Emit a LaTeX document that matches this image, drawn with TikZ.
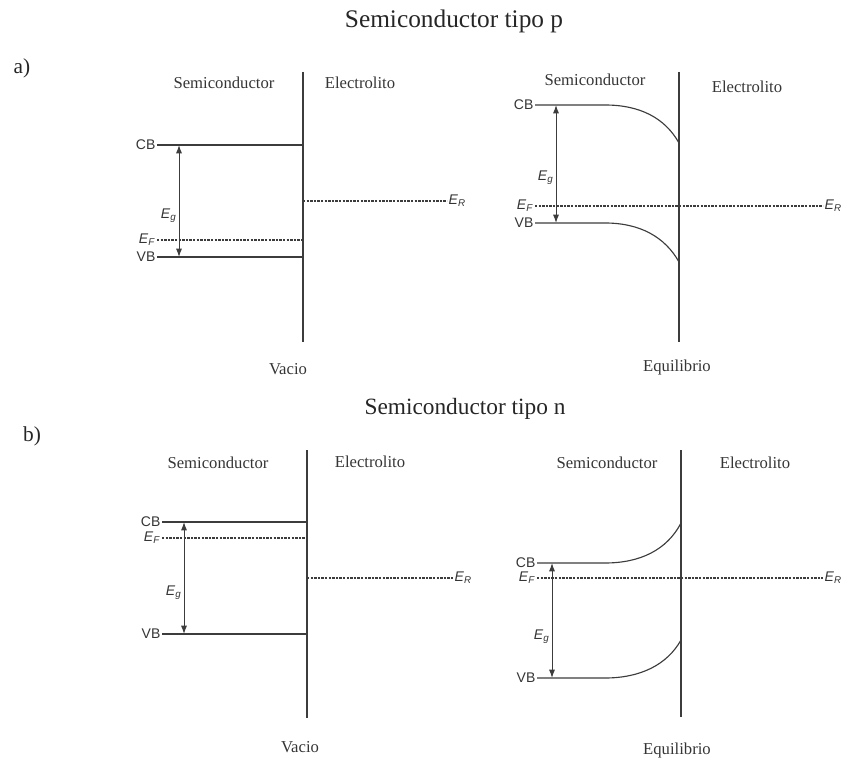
\documentclass[tikz,border=0pt]{standalone}
\usepackage{fontspec}
\setmainfont{Liberation Serif}
\setsansfont{Liberation Sans}
\usetikzlibrary{arrows.meta,positioning}
\definecolor{linec}{HTML}{3C3C3C}
\definecolor{txtc}{HTML}{353535}
\newcommand{\enr}[1]{\textit{E}\textsubscript{\textit{#1}}}
\tikzset{
  band/.style={line width=0.85pt,linec},
  fermi/.style={line width=0.8pt,linec,dash pattern=on 1.8pt off 0.9pt},
  gap/.style={{Latex[length=2.2mm,width=1.6mm]}-{Latex[length=2.2mm,width=1.6mm]},line width=0.75pt,linec},
  lvl/.style={font=\sffamily\fontsize{10.5}{12}\selectfont,txtc,inner sep=1pt},
  side/.style={font=\fontsize{12.5}{14}\selectfont,txtc},
  ttl/.style={font=\fontsize{19}{22}\selectfont,black!85},
  tag/.style={font=\fontsize{16}{18}\selectfont,black!85}
}
\begin{document}
\begin{tikzpicture}[x=0.75pt,y=-0.75pt]
\useasboundingbox (0,0) rectangle (848,762);
% titles
\node[ttl] (ttlP) at (454,21) {Semiconductor tipo p};
\node[ttl,font=\fontsize{17.5}{20}\selectfont] (ttlN) at (465,409) {Semiconductor tipo n};
\node[tag] (tagA) at (22,68) {a)};
\node[tag] (tagB) at (32,436) {b)};

% a) vacio
\coordinate (aT) at (303,72); \coordinate (aB) at (303,342);
\draw[band] (aT) -- (aB);
\coordinate (aCB) at (157,145); \coordinate (aVB) at (157,257); \coordinate (aEF) at (157,240);
\draw[band] (aCB) -- (aCB -| aT);
\draw[band] (aVB) -- (aVB -| aT);
\draw[fermi] (aEF) -- (aEF -| aT);
\node[lvl,left] (aCBl) at (aCB) {CB};
\node[lvl,left] (aVBl) at (aVB) {VB};
\node[lvl,left] (aEFl) at (aEF) {\enr{F}};
\coordinate (aG1) at (179,145); \coordinate (aG2) at (179,257);
\draw[gap] (aG1) -- (aG2);
\node[lvl,left] (aEg) at (178,216) {\enr{g}};
\coordinate (aR0) at (303,201); \coordinate (aR1) at (447,201);
\draw[fermi] (aR0) -- (aR1);
\node[lvl,right] (aER) at (aR1) {\enr{R}};
\node[side] (aSem) at (224,83) {Semiconductor};
\node[side] (aEle) at (360,83) {Electrolito};
\node[side] (aVac) at (288,369) {Vacio};

% a) equilibrio
\coordinate (cT) at (679,72); \coordinate (cB) at (679,342);
\draw[band] (cT) -- (cB);
\coordinate (cCB) at (535,105); \coordinate (cVB) at (535,223); \coordinate (cEF) at (535,206);
\draw[band] (cCB) -- (605,105) .. controls (640,105) and (665,118) .. (679,143);
\draw[band] (cVB) -- (605,223) .. controls (640,223) and (665,237) .. (679,262);
\coordinate (cR1) at (823,206);
\draw[fermi] (cEF) -- (cR1);
\node[lvl,left] (cCBl) at (cCB) {CB};
\node[lvl,left] (cVBl) at (cVB) {VB};
\node[lvl,left] (cEFl) at (cEF) {\enr{F}};
\node[lvl,right] (cER) at (cR1) {\enr{R}};
\coordinate (cG1) at (556,105); \coordinate (cG2) at (556,223);
\draw[gap] (cG1) -- (cG2);
\node[lvl,left] (cEg) at (555,178) {\enr{g}};
\node[side] (cSem) at (595,80) {Semiconductor};
\node[side] (cEle) at (747,87) {Electrolito};
\node[side] (cEqu) at (677,367) {Equilibrio};

% b) vacio
\coordinate (bT) at (307,450); \coordinate (bB) at (307,718);
\draw[band] (bT) -- (bB);
\coordinate (bCB) at (162,522); \coordinate (bVB) at (162,634); \coordinate (bEF) at (162,538);
\draw[band] (bCB) -- (bCB -| bT);
\draw[band] (bVB) -- (bVB -| bT);
\draw[fermi] (bEF) -- (bEF -| bT);
\node[lvl,left] (bCBl) at (bCB) {CB};
\node[lvl,left] (bVBl) at (bVB) {VB};
\node[lvl,left] (bEFl) at (bEF) {\enr{F}};
\coordinate (bG1) at (184,522); \coordinate (bG2) at (184,634);
\draw[gap] (bG1) -- (bG2);
\node[lvl,left] (bEg) at (183,593) {\enr{g}};
\coordinate (bR0) at (307,578); \coordinate (bR1) at (453,578);
\draw[fermi] (bR0) -- (bR1);
\node[lvl,right] (bER) at (bR1) {\enr{R}};
\node[side] (bSem) at (218,463) {Semiconductor};
\node[side] (bEle) at (370,462) {Electrolito};
\node[side] (bVac) at (300,747) {Vacio};

% b) equilibrio
\coordinate (dT) at (681,450); \coordinate (dB) at (681,717);
\draw[band] (dT) -- (dB);
\coordinate (dCB) at (537,563); \coordinate (dVB) at (537,678); \coordinate (dEF) at (537,578);
\draw[band] (dCB) -- (605,563) .. controls (640,563) and (667,550) .. (681,523);
\draw[band] (dVB) -- (605,678) .. controls (640,678) and (667,665) .. (681,640);
\coordinate (dR1) at (823,578);
\draw[fermi] (dEF) -- (dR1);
\node[lvl,left] (dCBl) at (dCB) {CB};
\node[lvl,left] (dVBl) at (dVB) {VB};
\node[lvl,left] (dEFl) at (dEF) {\enr{F}};
\node[lvl,right] (dER) at (dR1) {\enr{R}};
\coordinate (dG1) at (552,563); \coordinate (dG2) at (552,678);
\draw[gap] (dG1) -- (dG2);
\node[lvl,left] (dEg) at (551,637) {\enr{g}};
\node[side] (dSem) at (607,463) {Semiconductor};
\node[side] (dEle) at (755,463) {Electrolito};
\node[side] (dEqu) at (677,750) {Equilibrio};
\end{tikzpicture}
\end{document}
